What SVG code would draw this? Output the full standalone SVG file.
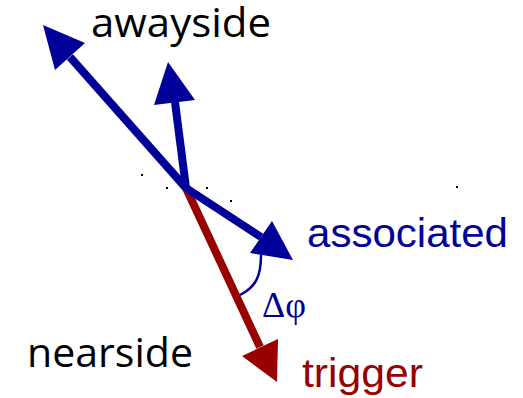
<svg xmlns="http://www.w3.org/2000/svg" width="523" height="398" viewBox="0 0 523 398">
<style>
.blue{stroke:#000099;fill:none;stroke-width:8}
.red{stroke:#990000;fill:none;stroke-width:8}
.hb{fill:#000099}
.hr{fill:#990000}
.lab{font-family:"Open Sans","Noto Sans",sans-serif;font-size:40px;fill:#000}
.lab2{font-family:"Liberation Sans",Arial,sans-serif;font-size:40px}
.dot{fill:#000}
</style>
<rect width="523" height="398" fill="#fff"/>
<g id="connectors">
<g id="trigger-arrow">
<line class="red" x1="186" y1="188" x2="260" y2="347"/>
<polygon class="hr" points="277,382 242,356 278,339"/>
</g>
<g id="awayside-arrow1">
<line class="blue" x1="186" y1="188" x2="70" y2="57"/>
<polygon class="hb" points="43,25 55,70 85,43"/>
</g>
<g id="awayside-arrow2">
<line class="blue" x1="186" y1="188" x2="175" y2="102"/>
<polygon class="hb" points="168,62 154,105 195,100"/>
</g>
<g id="associated-arrow">
<line class="blue" x1="186" y1="188" x2="261" y2="237"/>
<polygon class="hb" points="293,260 272,221 250,253"/>
</g>
<path id="angle-arc" d="M261,255 C261,276 256,287 240,295" fill="none" stroke="#000099" stroke-width="2.5"/>
</g>
<g id="dots">
<rect class="dot" x="141" y="174" width="2" height="2"/>
<rect class="dot" x="166" y="187" width="2" height="2"/>
<rect class="dot" x="206" y="187" width="2" height="2"/>
<rect class="dot" x="230" y="200" width="2" height="2"/>
<rect class="dot" x="456" y="186" width="2" height="2"/>
</g>
<g id="awayside"><text class="lab" x="91" y="37" textLength="180" lengthAdjust="spacingAndGlyphs">awayside</text></g>
<g id="nearside"><text class="lab" x="27" y="367" textLength="166" lengthAdjust="spacingAndGlyphs">nearside</text></g>
<g id="associated"><text class="lab2" x="307" y="247" fill="#000099" textLength="201" lengthAdjust="spacingAndGlyphs">associated</text></g>
<g id="trigger"><text class="lab2" x="302" y="387" fill="#990000" textLength="121" lengthAdjust="spacingAndGlyphs">trigger</text></g>
<g id="dphi"><text x="262" y="317" font-family="'Liberation Serif','Times New Roman',serif" font-size="36" fill="#000099">Δφ</text></g>
</svg>
